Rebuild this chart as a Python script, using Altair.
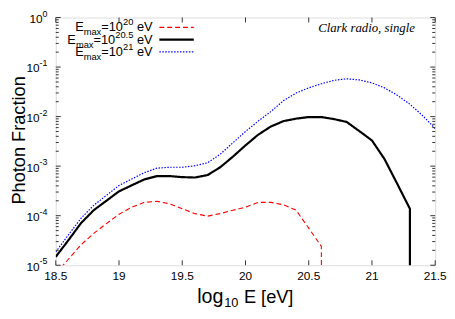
import altair as alt
import pandas as pd

# ---------------- data ----------------
energy = [18.5, 18.6, 18.7, 18.8, 18.9, 19.0, 19.1, 19.2, 19.3, 19.4, 19.5,
          19.6, 19.7, 19.8, 19.9, 20.0, 20.1, 20.2, 20.3, 20.4, 20.5,
          20.6, 20.7, 20.8, 20.9, 21.0, 21.1, 21.2, 21.3, 21.4, 21.5]

# E_max = 10^20 eV (18.5 .. 20.6), then drops to zero
red_vals = [6.8e-6, 1.32e-5, 2.6e-5, 4.4e-5, 6.9e-5, 1.07e-4, 1.48e-4, 1.86e-4,
            1.95e-4, 1.74e-4, 1.38e-4, 1.1e-4, 9.8e-5, 1.1e-4, 1.29e-4, 1.48e-4,
            1.86e-4, 1.86e-4, 1.66e-4, 1.29e-4, 5.6e-5, 2.4e-5]
# E_max = 10^20.5 eV (18.5 .. 21.3), then drops to zero
black_vals = [1.48e-5, 3.2e-5, 7.1e-5, 1.29e-4, 2.0e-4, 3.1e-4, 4.1e-4, 5.4e-4,
              6.3e-4, 6.3e-4, 6.0e-4, 5.9e-4, 6.6e-4, 9.5e-4, 1.55e-3, 2.63e-3,
              4.3e-3, 6.3e-3, 8.1e-3, 9.1e-3, 9.8e-3, 9.8e-3, 8.9e-3, 7.8e-3,
              5.1e-3, 3.3e-3, 1.38e-3, 4.4e-4, 1.38e-4]
# E_max = 10^21 eV (18.5 .. 21.5)
blue_vals = [1.86e-5, 4.1e-5, 8.9e-5, 1.62e-4, 2.57e-4, 4.07e-4, 5.5e-4, 7.4e-4,
             9.1e-4, 9.5e-4, 9.5e-4, 1.02e-3, 1.17e-3, 1.74e-3, 2.95e-3, 5.0e-3,
             8.1e-3, 1.26e-2, 2.09e-2, 3.0e-2, 3.8e-2, 4.6e-2, 5.4e-2, 5.8e-2,
             5.5e-2, 4.8e-2, 3.8e-2, 2.7e-2, 1.78e-2, 1.05e-2, 5.75e-3]
drop_value = 1e-7  # vertical cut-off to below the axis

series_names = ["E20", "E20.5", "E21"]
series_exps = ["20", "20.5", "21"]
series_colors = ["#ff0000", "#000000", "#0000ff"]
series_dash = [[5, 3], [1, 0], [1.5, 1.5]]
series_width = [1.1, 2.2, 1.2]

x_ticks = [18.5, 19.0, 19.5, 20.0, 20.5, 21.0, 21.5]
x_tick_labels = ["18.5", "19", "19.5", "20", "20.5", "21", "21.5"]
y_major = [1e-5, 1e-4, 1e-3, 1e-2, 1e-1, 1.0]
y_exponents = ["-5", "-4", "-3", "-2", "-1", "0"]
y_minor_mult = [2, 3, 4, 5, 6, 7, 8, 9]
y_minor = [m * d for d in y_major[:-1] for m in y_minor_mult]

# ---------------- layout ----------------
W, H = 386, 252
PX0, PY0 = 56.6, 15.0  # page position of plot origin
FONT = "Liberation Sans"

xs = alt.Scale(domain=[18.5, 21.5], nice=False, zero=False)
ys = alt.Scale(type="log", domain=[1e-5, 1.0], nice=False)

layers = []
for idx, (vals, drop) in enumerate([(red_vals, True), (black_vals, True), (blue_vals, False)]):
    rows = [{"E": energy[i], "f": v, "i": i} for i, v in enumerate(vals)]
    if drop:
        rows.append({"E": energy[len(vals) - 1], "f": drop_value, "i": len(vals)})
    d = pd.DataFrame(rows)
    layers.append(alt.Chart(d).mark_line(clip=True, color=series_colors[idx],
                                         strokeDash=series_dash[idx],
                                         strokeWidth=series_width[idx]).encode(
        x=alt.X("E:Q", scale=xs, axis=None),
        y=alt.Y("f:Q", scale=ys, axis=None),
        order="i:Q"))

# inside ticks (gnuplot style) on all four sides
ymaj = pd.DataFrame({"v": y_major})
ymin = pd.DataFrame({"v": y_minor})
xmaj = pd.DataFrame({"E": x_ticks, "t": x_tick_labels})
TC = "#333333"


def ytick(d, x0, x1):
    return alt.Chart(d).mark_rule(color=TC, strokeWidth=1).encode(
        x=alt.value(x0), x2=alt.value(x1), y=alt.Y("v:Q", scale=ys, axis=None))


def xtick(y0, y1):
    return alt.Chart(xmaj).mark_rule(color=TC, strokeWidth=1).encode(
        x=alt.X("E:Q", scale=xs, axis=None), y=alt.value(y0), y2=alt.value(y1))


layers += [ytick(ymaj, 0, 5), ytick(ymin, 0, 3), ytick(ymaj, W - 5, W), ytick(ymin, W - 3, W),
           xtick(H - 5, H), xtick(0, 5)]

# x tick labels
layers.append(alt.Chart(xmaj).mark_text(align="center", baseline="top", fontSize=12, font=FONT,
                                        color="black").encode(
    x=alt.X("E:Q", scale=xs, axis=None), y=alt.value(H + 6), text="t:N"))

# y tick labels: "10" with superscript exponent
exp_w = [9 * (0.333 + 0.556) if e.startswith("-") else 9 * 0.556 for e in y_exponents]
ylab = pd.DataFrame({"v": y_major, "exp": y_exponents, "t": ["10"] * len(y_major),
                     "lx": [-8.5 - w for w in exp_w]})
layers.append(alt.Chart(ylab).mark_text(align="right", baseline="middle", fontSize=12, font=FONT,
                                        color="black", dy=1.5).encode(
    x=alt.X("lx:Q", scale=None, axis=None), y=alt.Y("v:Q", scale=ys, axis=None), text="t:N"))
layers.append(alt.Chart(ylab).mark_text(align="right", baseline="middle", fontSize=9, font=FONT,
                                        color="black", dy=-4).encode(
    x=alt.value(-8.5), y=alt.Y("v:Q", scale=ys, axis=None), text="exp:N"))

# text pieces (legend labels and x-axis title with sub/superscripts); page coords
pieces = []


def legend_row(x_start, base, exponent):
    x = x_start
    parts = [("E", 13, 0, 0.667), ("max", 9.5, 4, 1.889), ("=10", 13, 0, 1.696),
             (exponent, 9.5, -6, None), ("eV", 13, 0, 1.223)]
    for txt, fs, dy, wf in parts:
        if txt == "eV":
            x += 0.278 * 13
        pieces.append({"text": txt, "px": x - PX0, "py": base + dy - PY0, "fs": fs})
        if wf is None:
            wf = sum(0.278 if c == "." else 0.556 for c in txt)
        x += wf * fs


legend_row(76.3, 29.0, series_exps[0])
legend_row(68.4, 41.5, series_exps[1])
legend_row(76.3, 54.0, series_exps[2])
pieces.append({"text": "log", "px": 200.5 - PX0, "py": 305.7 - PY0, "fs": 20})
pieces.append({"text": "10", "px": 228.0 - PX0, "py": 309.5 - PY0, "fs": 13})
pieces.append({"text": "E [eV]", "px": 248.0 - PX0, "py": 305.7 - PY0, "fs": 18.5})
pdf = pd.DataFrame(pieces)
layers.append(alt.Chart(pdf).mark_text(align="left", baseline="alphabetic", font=FONT,
                                       color="black").encode(
    x=alt.X("px:Q", scale=None, axis=None), y=alt.Y("py:Q", scale=None, axis=None),
    text="text:N", size=alt.Size("fs:Q", scale=None, legend=None)))

# legend line samples
for idx, ly in enumerate([25.0, 37.5, 50.0]):
    layers.append(alt.Chart(pd.DataFrame({"ly": [ly - PY0]})).mark_rule(
        color=series_colors[idx], strokeDash=series_dash[idx],
        strokeWidth=series_width[idx]).encode(
        x=alt.value(162 - PX0), x2=alt.value(197 - PX0),
        y=alt.Y("ly:Q", scale=None, axis=None)))

one = pd.DataFrame({"k": [0]})
layers.append(alt.Chart(one).mark_text(align="right", baseline="alphabetic", font="Liberation Serif",
                                       fontStyle="italic", fontSize=13, color="black").encode(
    x=alt.value(422 - PX0), y=alt.value(29.5 - PY0), text=alt.value("Clark radio, single")))
layers.append(alt.Chart(one).mark_text(align="center", baseline="alphabetic", font=FONT, angle=270,
                                       fontSize=18.5, color="black").encode(
    x=alt.value(25.0 - PX0), y=alt.value(140 - PY0), text=alt.value("Photon Fraction")))

chart = alt.layer(*layers).properties(
    width=W, height=H,
    autosize=alt.AutoSizeParams(type="none"),
    padding={"left": PX0 - 8, "top": PY0 - 8, "right": 12, "bottom": 52},
).configure_view(stroke="#808080", strokeWidth=1.5).configure(background="white")

chart.save("out.html", embed_options={"renderer": "svg", "actions": False})
